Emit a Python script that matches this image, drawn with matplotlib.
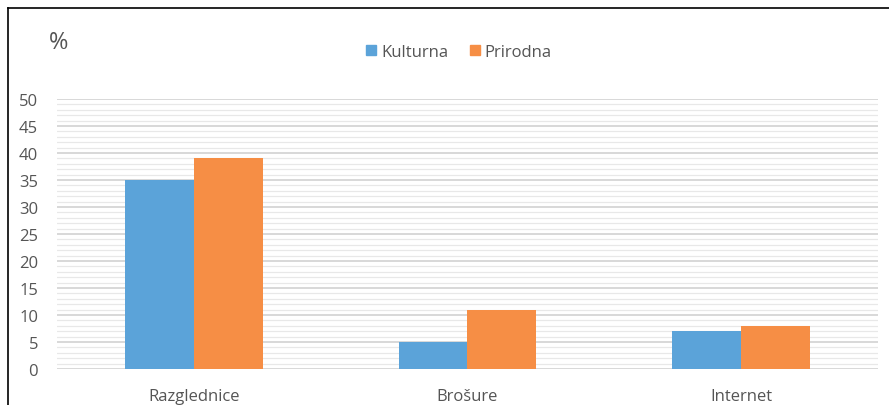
import matplotlib
matplotlib.use("Agg")
import matplotlib.pyplot as plt
from matplotlib.lines import Line2D
from matplotlib.patches import Patch
import numpy as np

kategorije = ["Razglednice", "Brošure", "Internet"]
kulturna = [35, 5, 7]
prirodna = [39, 11, 8]
serije = ["Kulturna", "Prirodna"]
boje = ["#5ba3d9", "#f68e45"]
siva = "#555555"

plt.rcParams['font.family'] = ['Open Sans', 'DejaVu Sans']

fig = plt.figure(figsize=(8.89, 4.06), dpi=100)
ax = fig.add_axes([57/889, 1 - 370/406, (878-57)/889, 270/406])

x = np.arange(len(kategorije))
w = 0.252
ax.bar(x - w/2, kulturna, w, color=boje[0], zorder=3)
ax.bar(x + w/2, prirodna, w, color=boje[1], zorder=3)

ax.set_xlim(-0.5, 2.5)
ax.set_ylim(0, 50)
ax.set_yticks(range(0, 51, 5))
ax.set_yticks(range(0, 51, 1), minor=True)
ax.grid(axis='y', which='major', color='#d6d6d6', linewidth=1.3, zorder=0)
ax.grid(axis='y', which='minor', color='#e8e8e8', linewidth=0.9, zorder=0)
ax.set_xticks(x)
ax.set_xticklabels(kategorije)
ax.tick_params(axis='both', which='both', length=0, labelsize=12, colors=siva)
ax.tick_params(axis='x', pad=14)
ax.tick_params(axis='y', pad=13.5)
for s in ax.spines.values():
    s.set_visible(False)

fig.text(49/889, 1 - 43/406, "%", fontsize=17, color=siva, va='center')

ruke = [Patch(color=boje[0]), Patch(color=boje[1])]
fig.legend(ruke, serije, loc='center', bbox_to_anchor=(459/889, 1 - 53/406),
           ncol=2, frameon=False, fontsize=12, labelcolor=siva,
           handlelength=0.6, handleheight=0.6, handletextpad=0.3, columnspacing=1.3)

# okvir (gore i lijevo)
fig.add_artist(Line2D([8/889, 1], [1 - 9/406, 1 - 9/406], color='black', linewidth=1.2))
fig.add_artist(Line2D([8/889, 8/889], [0, 1 - 9/406], color='black', linewidth=1.2))

fig.savefig("out.png", dpi=100)
